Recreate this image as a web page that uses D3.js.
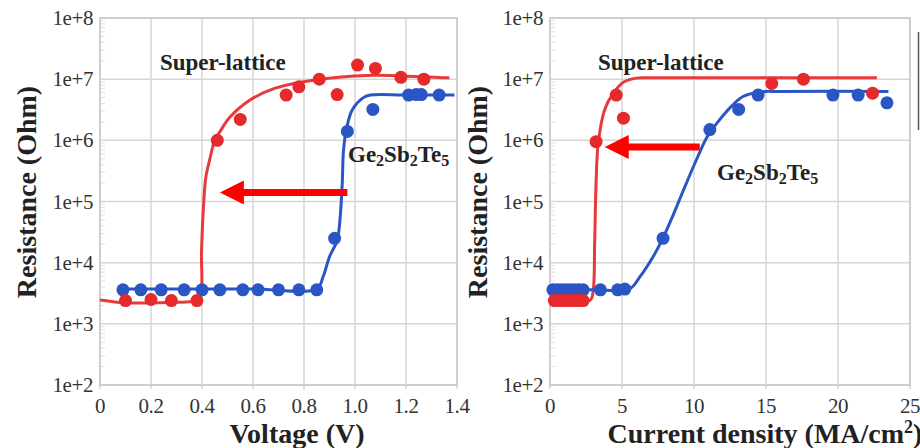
<!DOCTYPE html>
<html lang="en">
<meta charset="utf-8">
<style>
body { margin: 0; background: #fff; }
svg { display: block; }
.tick-label { font: 21px "Liberation Serif", serif; fill: #333; letter-spacing: -0.4px; }
.axis-title { font: bold 28px "Liberation Serif", serif; fill: #222; }
.note { font: bold 23px "Liberation Serif", serif; fill: #222; }
</style>
<body>
<script src="https://d3js.org/d3.v7.min.js"></script>
<script>
// ---- data ----
// left panel: resistance vs voltage
var vTicks = [0, 0.2, 0.4, 0.6, 0.8, 1.0, 1.2, 1.4];
var vTickLabels = ["0", "0.2", "0.4", "0.6", "0.8", "1.0", "1.2", "1.4"];
var rTicks = [1e2, 1e3, 1e4, 1e5, 1e6, 1e7, 1e8];
var rTickLabels = ["1e+2", "1e+3", "1e+4", "1e+5", "1e+6", "1e+7", "1e+8"];

var slVoltDots = [[0.10, 2.4e3], [0.20, 2.5e3], [0.28, 2.4e3], [0.38, 2.4e3], [0.46, 1.0e6], [0.55, 2.2e6],
  [0.73, 5.5e6], [0.78, 7.5e6], [0.86, 1.0e7], [0.93, 5.6e6], [1.01, 1.7e7], [1.08, 1.5e7], [1.18, 1.07e7], [1.27, 1.0e7]];
var gstVoltDots = [[0.09, 3.6e3], [0.16, 3.6e3], [0.24, 3.6e3], [0.33, 3.6e3], [0.40, 3.6e3], [0.47, 3.6e3],
  [0.56, 3.6e3], [0.62, 3.6e3], [0.70, 3.6e3], [0.78, 3.6e3], [0.85, 3.6e3], [0.92, 2.5e4], [0.97, 1.4e6],
  [1.07, 3.2e6], [1.21, 5.5e6], [1.24, 5.6e6], [1.26, 5.6e6], [1.33, 5.5e6]];
var slVoltFit = [[0, 2.45e3], [0.1, 2.2e3], [0.2, 2.2e3], [0.3, 2.25e3], [0.37, 2.35e3], [0.392, 2.6e3],
  [0.398, 1.5e4], [0.404, 6e4], [0.415, 2.5e5], [0.431, 5e5], [0.45, 1.0e6], [0.471, 1.4e6], [0.51, 2.4e6],
  [0.59, 4.6e6], [0.69, 7.2e6], [0.85, 9.8e6], [1.05, 1.15e7], [1.2, 1.12e7], [1.37, 1.05e7]];
var gstVoltFit = [[0.08, 3.7e3], [0.3, 3.7e3], [0.6, 3.7e3], [0.85, 3.75e3], [0.875, 5.9e3], [0.90, 1.25e4],
  [0.93, 2.3e4], [0.942, 5.6e4], [0.95, 2e5], [0.955, 6.9e5], [0.968, 1.66e6], [0.99, 3.2e6], [1.03, 4.9e6],
  [1.06, 5.5e6], [1.2, 5.5e6], [1.39, 5.5e6]];

// right panel: resistance vs current density
var jTicks = [0, 5, 10, 15, 20, 25];
var jTickLabels = ["0", "5", "10", "15", "20", "25"];

var slCurDots = [[0.3, 2.4e3], [0.6, 2.4e3], [0.9, 2.4e3], [1.2, 2.4e3], [1.5, 2.4e3], [1.8, 2.4e3], [2.1, 2.4e3],
  [2.3, 2.4e3], [3.2, 9.5e5], [4.6, 5.5e6], [5.1, 2.3e6], [15.4, 8.5e6], [17.6, 1.0e7], [22.4, 5.9e6]];
var gstCurDots = [[0.2, 3.6e3], [0.5, 3.6e3], [0.8, 3.6e3], [1.1, 3.6e3], [1.4, 3.6e3], [1.7, 3.6e3], [2.0, 3.6e3],
  [2.3, 3.6e3], [3.5, 3.6e3], [4.7, 3.6e3], [5.2, 3.7e3], [7.85, 2.5e4], [11.1, 1.5e6], [13.1, 3.2e6],
  [14.45, 5.5e6], [19.65, 5.5e6], [21.4, 5.5e6], [23.4, 4.1e6]];
var slCurFit = [[0, 2.4e3], [1.5, 2.4e3], [2.8, 2.45e3], [3.0, 3.5e3], [3.1, 2e4], [3.2, 2e5], [3.35, 9e5],
  [3.8, 3.2e6], [4.4, 5.9e6], [5.1, 8.9e6], [6.0, 1.04e7], [7.0, 1.05e7], [15, 1.05e7], [22.7, 1.05e7]];
var gstCurFit = [[0, 3.6e3], [3, 3.6e3], [5.5, 3.7e3], [6.25, 5.9e3], [7.2, 1.3e4], [7.8, 2.4e4], [8.5, 5.6e4],
  [9.25, 1.5e5], [10.2, 5e5], [10.9, 1.12e6], [11.8, 2.2e6], [12.7, 3.8e6], [13.4, 5.2e6], [14.6, 6.2e6],
  [16, 6.3e6], [23.5, 6.3e6]];

// ---- layout ----
var w = 920, h = 448;
var red = "#e62a2c", redLine = "#e8393b", blue = "#2a55c4";
var gridColor = "#d6d6d6";

var svg = d3.select("body").append("svg")
  .attr("width", w)
  .attr("height", h);

function panel(opts) {
  var x = opts.x, y = opts.y;
  var g = svg.append("g");
  var x0 = x.range()[0], x1 = x.range()[1];
  var y0 = y.range()[0], y1 = y.range()[1];

  // grid
  g.selectAll(".vgrid").data(opts.xTicks).enter().append("line")
    .attr("x1", function(d) { return x(d); }).attr("x2", function(d) { return x(d); })
    .attr("y1", y0).attr("y2", y1)
    .attr("stroke", gridColor).attr("stroke-width", 1.5);
  g.selectAll(".hgrid").data(rTicks).enter().append("line")
    .attr("x1", x0).attr("x2", x1)
    .attr("y1", function(d) { return y(d); }).attr("y2", function(d) { return y(d); })
    .attr("stroke", gridColor).attr("stroke-width", 1.5);

  // minor ticks on the log axis
  var minors = [];
  rTicks.slice(0, -1).forEach(function(dec) {
    for (var k = 2; k < 10; k++) minors.push(dec * k);
  });
  g.selectAll(".minor").data(minors).enter().append("line")
    .attr("x1", x0).attr("x2", x0 + 5)
    .attr("y1", function(d) { return y(d); }).attr("y2", function(d) { return y(d); })
    .attr("stroke", "#e0e0e0").attr("stroke-width", 1);

  // x tick marks below frame
  g.selectAll(".xtick").data(opts.xTicks).enter().append("line")
    .attr("x1", function(d) { return x(d); }).attr("x2", function(d) { return x(d); })
    .attr("y1", y0).attr("y2", y0 + 4)
    .attr("stroke", "#bbb");

  // frame
  g.append("rect")
    .attr("x", x0).attr("y", y1)
    .attr("width", x1 - x0).attr("height", y0 - y1)
    .attr("fill", "none").attr("stroke", "#c8c8c8").attr("stroke-width", 1.5);

  // tick labels
  g.selectAll(".ylab").data(rTicks).enter().append("text")
    .attr("class", "tick-label")
    .attr("x", x0 - 7)
    .attr("y", function(d) { return y(d) + 7; })
    .attr("text-anchor", "end")
    .text(function(d, i) { return rTickLabels[i]; });
  g.selectAll(".xlab").data(opts.xTicks).enter().append("text")
    .attr("class", "tick-label")
    .attr("x", function(d) { return x(d); })
    .attr("y", 413)
    .attr("text-anchor", "middle")
    .text(function(d, i) { return opts.xTickLabels[i]; });

  // axis titles
  g.append("text")
    .attr("class", "axis-title")
    .attr("transform", "translate(" + opts.yTitleX + "," + 192 + ") rotate(-90)")
    .attr("text-anchor", "middle")
    .text("Resistance (Ohm)");
  var xt = g.append("text")
    .attr("class", "axis-title")
    .attr("x", opts.xTitleX).attr("y", 443)
    .attr("text-anchor", "middle");
  xt.text(opts.xTitle);
  if (opts.xTitleSup) {
    xt.append("tspan").attr("dy", -10).attr("font-size", 18).text(opts.xTitleSup);
    xt.append("tspan").attr("dy", 10).text(")");
  }

  // fitted curves
  var line = d3.line()
    .x(function(d) { return x(d[0]); })
    .y(function(d) { return y(d[1]); })
    .curve(d3.curveCatmullRom.alpha(0.5));
  g.append("path").datum(opts.slFit)
    .attr("d", line).attr("fill", "none")
    .attr("stroke", redLine).attr("stroke-width", 3);
  g.append("path").datum(opts.gstFit)
    .attr("d", line).attr("fill", "none")
    .attr("stroke", blue).attr("stroke-width", 3);

  // dots
  g.selectAll(".gdot").data(opts.gstDots).enter().append("circle")
    .attr("cx", function(d) { return x(d[0]); })
    .attr("cy", function(d) { return y(d[1]); })
    .attr("r", 6.5).attr("fill", blue);
  g.selectAll(".sdot").data(opts.slDots).enter().append("circle")
    .attr("cx", function(d) { return x(d[0]); })
    .attr("cy", function(d) { return y(d[1]); })
    .attr("r", 6.5).attr("fill", red);

  // arrow (tail -> head, data coords)
  var ax0 = x(opts.arrow[0]), ax1 = x(opts.arrow[1]), ay = y(opts.arrow[2]);
  g.append("line")
    .attr("x1", ax0).attr("x2", ax1 + 20)
    .attr("y1", ay).attr("y2", ay)
    .attr("stroke", "#ff0000").attr("stroke-width", 7);
  g.append("path")
    .attr("d", "M" + ax1 + "," + ay + "L" + (ax1 + 24) + "," + (ay - 12) + "L" + (ax1 + 24) + "," + (ay + 12) + "Z")
    .attr("fill", "#ff0000");

  // labels
  g.append("text").attr("class", "note")
    .attr("x", opts.slLabel[0]).attr("y", opts.slLabel[1])
    .text("Super-lattice");
  var gl = g.append("text").attr("class", "note")
    .attr("x", opts.gstLabel[0]).attr("y", opts.gstLabel[1]);
  gl.append("tspan").text("Ge");
  gl.append("tspan").attr("font-size", 16).attr("dy", 4).text("2");
  gl.append("tspan").attr("dy", -4).text("Sb");
  gl.append("tspan").attr("font-size", 16).attr("dy", 4).text("2");
  gl.append("tspan").attr("dy", -4).text("Te");
  gl.append("tspan").attr("font-size", 16).attr("dy", 4).text("5");
}

panel({
  x: d3.scaleLinear().domain([0, 1.4]).range([100, 457]),
  y: d3.scaleLog().domain([1e2, 1e8]).range([385, 18]),
  xTicks: vTicks, xTickLabels: vTickLabels,
  xTitle: "Voltage (V)", xTitleX: 297, yTitleX: 36,
  slDots: slVoltDots, gstDots: gstVoltDots, slFit: slVoltFit, gstFit: gstVoltFit,
  arrow: [0.97, 0.47, 1.4e5],
  slLabel: [160, 70], gstLabel: [348, 162]
});

panel({
  x: d3.scaleLinear().domain([0, 25]).range([550, 910]),
  y: d3.scaleLog().domain([1e2, 1e8]).range([385, 18]),
  xTicks: jTicks, xTickLabels: jTickLabels,
  xTitle: "Current density (MA/cm", xTitleSup: "2", xTitleX: 765, yTitleX: 487,
  slDots: slCurDots, gstDots: gstCurDots, slFit: slCurFit, gstFit: gstCurFit,
  arrow: [10.4, 3.8, 7.8e5],
  slLabel: [598, 70], gstLabel: [717, 180]
});

// dark edge at the far right of the source figure
svg.append("line")
  .attr("x1", 918.5).attr("x2", 918.5)
  .attr("y1", 32).attr("y2", 130)
  .attr("stroke", "#555").attr("stroke-width", 1.5);
</script>
</body>
</html>
